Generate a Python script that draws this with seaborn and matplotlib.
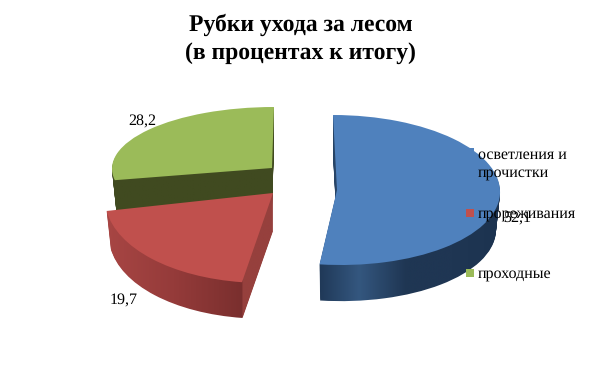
import matplotlib
matplotlib.use("Agg")
import matplotlib.pyplot as plt
import numpy as np
import seaborn as sns
from matplotlib.colors import ListedColormap
from matplotlib.transforms import Affine2D

title = "Рубки ухода за лесом\n(в процентах к итогу)"
categories = ["осветления и\nпрочистки", "прореживания", "проходные"]
values = [52.1, 19.7, 28.2]
colors = ["#4f81bd", "#c0504d", "#9bbb59"]

sns.set_theme(style="white")
plt.rcParams['font.family'] = ['Liberation Serif', 'DejaVu Serif']
plt.rcParams['text.hinting'] = 'no_hinting'

fig = plt.figure(figsize=(6, 3.66), dpi=100)
ax = fig.add_axes([0, 0, 1, 1])

# centre x, centre y, rx, ry, shear (pixels) - the fake perspective of each slice
geometry = [
    (337, 190, 163, 75, -4),
    (273, 193, 168, 90, 9),
    (272, 168, 160, 61, 2),
]
# side wall shading: colours, x span of the gradient, how much of it is the outer wall, cut face colour
walls = [
    (["#1c3350", "#34577f", "#1f3653", "#1f3653", "#1c3350"], (312, 500), 1.0, "#1c3350"),
    (["#a84644", "#953b3a", "#7a2f2e"], (105, 275), 0.81, "#96403d"),
    (["#404a20", "#404a20"], (110, 276), 1.0, "#404a20"),
]
depth = 38
order = [0, 2, 1]


def one_slice(i, dy=0, shrink=1.0, **wedge_kw):
    """Draws the whole pie but keeps only slice i, squashed into an ellipse."""
    cx, cy, rx, ry, shear = geometry[i]
    wedges, _ = ax.pie(values, colors=colors, startangle=90, counterclock=False, wedgeprops=wedge_kw)
    for j, w in enumerate(wedges):
        if j != i:
            w.remove()
    m = np.array([[rx * shrink, shear, cx], [0, -ry * shrink, cy + dy], [0, 0, 1]])
    wedges[i].set_transform(Affine2D(m) + ax.transData)
    return wedges[i]


gradient = np.linspace(0, 1, 256)[None, :]
for z, i in enumerate(order):
    wall, span, frac, cut = walls[i]
    n = int(256 * frac)
    cmap = ListedColormap(sns.blend_palette(wall, n) + [cut] * (256 - n))
    for d in range(depth, 0, -1):
        w = one_slice(i, dy=d, shrink=1 - 0.025 * d / depth, facecolor="none", edgecolor="none", zorder=z + 1)
        im = ax.imshow(gradient, cmap=cmap, aspect="auto", extent=(span[0], span[1], 340, 90), zorder=z + 1)
        im.set_clip_path(w)
    one_slice(i, facecolor=colors[i], edgecolor="none", zorder=z + 1.5)

ax.set_aspect("auto")
ax.set_xlim(0, 600)
ax.set_ylim(366, 0)
ax.axis("off")

fig.text(300.5 / 600, 1 - 39 / 366, title, ha="center", va="center", fontsize=17, fontweight="bold",
         color="black", linespacing=1.4)

# value labels
label_pos = [(517, 219), (124, 301), (142, 122)]
for v, (x, y) in zip(values, label_pos):
    ax.text(x, y, f"{v:.1f}".replace(".", ","), ha="center", va="center", fontsize=11.5, color="black", zorder=10)

# legend, the gaps are not even in the original so it is placed by hand
legend_y = [152, 213, 273]
label_y = [164, 214, 274]
for name, c, my, ly in zip(categories, colors, legend_y, label_y):
    ax.scatter([470], [my], marker="s", s=30, color=c, linewidths=0, zorder=11)
    ax.text(478, ly, name, ha="left", va="center", fontsize=11.5, color="black", zorder=12, linespacing=1.35)

fig.savefig("out.png", dpi=100)
